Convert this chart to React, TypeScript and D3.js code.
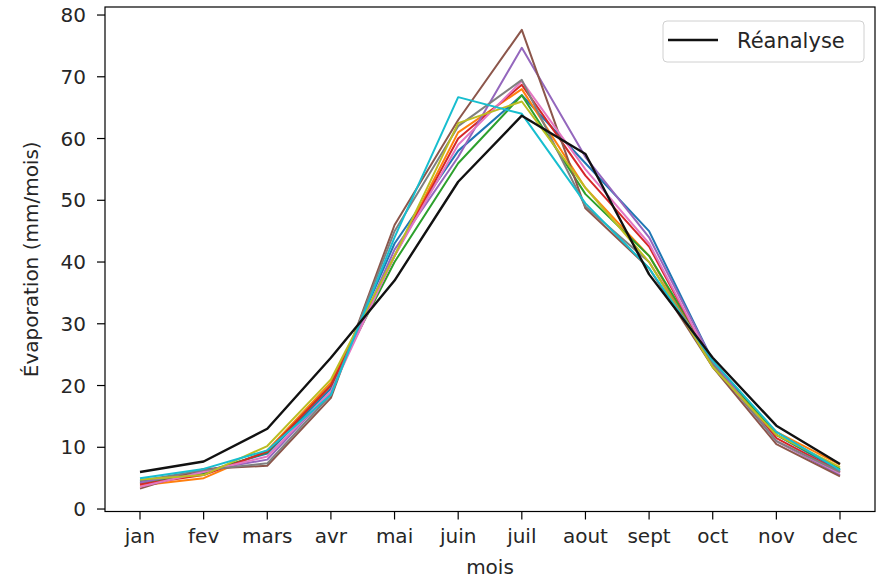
import React from "react";
import * as d3 from "d3";

const months = ["jan", "fev", "mars", "avr", "mai", "juin", "juil", "aout", "sept", "oct", "nov", "dec"];
const yTicks = [0, 10, 20, 30, 40, 50, 60, 70, 80];

const modelColors = ["#1f77b4", "#ff7f0e", "#2ca02c", "#d62728", "#9467bd", "#8c564b", "#e377c2", "#7f7f7f", "#bcbd22", "#17becf"];

const modelBlue = [4.5, 6.0, 9.0, 19.5, 43, 58, 67, 56, 45, 24, 12, 6.2];
const modelOrange = [3.8, 5.0, 9.5, 20.5, 41, 61, 68, 52, 41, 23, 12.5, 7.2];
const modelGreen = [4.2, 5.8, 9.2, 20, 40, 56, 67, 51, 41, 24, 12, 6.5];
const modelRed = [4.0, 5.5, 9.3, 20, 41, 60, 68.7, 54, 42.5, 23.5, 11.5, 6.0];
const modelPurple = [4.3, 6.2, 8.0, 19, 42, 57, 74.7, 57, 44, 24, 11, 5.5];
const modelBrown = [3.3, 6.5, 7.0, 18, 46, 63, 77.6, 48.7, 39, 23, 10.5, 5.3];
const modelPink = [3.6, 6.0, 8.5, 19, 41, 59, 69.3, 55, 43, 23.5, 11, 5.8];
const modelGray = [4.6, 6.3, 7.4, 18.5, 45, 62, 69.5, 49, 40, 23.5, 11, 6.0];
const modelOlive = [4.8, 5.5, 10.2, 21, 41, 62.5, 66, 52, 40, 23, 12, 6.8];
const modelCyan = [5.0, 6.5, 9.5, 18.5, 44, 66.7, 64, 49.5, 39, 24, 12.5, 6.3];

const reanalyse = [6.0, 7.7, 13.0, 24.5, 37.0, 53.0, 63.7, 57.5, 38.0, 24.5, 13.5, 7.3];

const models = [modelBlue, modelOrange, modelGreen, modelRed, modelPurple, modelBrown, modelPink, modelGray, modelOlive, modelCyan];

const W = 882;
const H = 579;
const L = 105, R = 875, T = 7, B = 511.5;
const FONT = "DejaVu Sans";
const FS = 20;

export default function App() {
  const x = d3.scalePoint<string>().domain(months).range([L, R]).padding(0.55);
  const y = d3.scaleLinear().domain([-0.4, 81.3]).range([B, T]);
  const line = d3
    .line<number>()
    .x((_, i) => x(months[i]) as number)
    .y((d) => y(d));

  return (
    <svg width={W} height={H} style={{ position: "absolute", left: 0, top: 0, background: "#fff" }} fontFamily={FONT}>
      <rect x={0} y={0} width={W} height={H} fill="#fff" />
      {models.map((s, i) => (
        <path key={i} d={line(s) || ""} fill="none" stroke={modelColors[i]} strokeWidth={2} strokeLinejoin="round" />
      ))}
      <path d={line(reanalyse) || ""} fill="none" stroke="#111" strokeWidth={2.4} strokeLinejoin="round" />
      <rect x={L} y={T} width={R - L} height={B - T} fill="none" stroke="#000" strokeWidth={1.2} />
      {yTicks.map((t) => (
        <g key={t}>
          <line x1={L - 8} x2={L} y1={y(t)} y2={y(t)} stroke="#000" strokeWidth={1.2} />
          <text x={L - 19} y={y(t)} dy="0.36em" textAnchor="end" fontSize={FS} fill="#262626">
            {t}
          </text>
        </g>
      ))}
      {months.map((m) => (
        <g key={m}>
          <line x1={x(m)} x2={x(m)} y1={B} y2={B + 8} stroke="#000" strokeWidth={1.2} />
          <text x={x(m)} y={B + 31} textAnchor="middle" fontSize={FS} fill="#262626">
            {m}
          </text>
        </g>
      ))}
      <text x={(L + R) / 2} y={574} textAnchor="middle" fontSize={FS} fill="#262626">
        mois
      </text>
      <text transform={`translate(38,${(T + B) / 2}) rotate(-90)`} textAnchor="middle" fontSize={FS} fill="#262626">
        Évaporation (mm/mois)
      </text>
      <g>
        <rect x={663} y={21} width={201} height={41} rx={4} fill="#fff" fillOpacity={0.8} stroke="#d0d0d0" strokeWidth={1} />
        <line x1={668} x2={718} y1={40} y2={40} stroke="#111" strokeWidth={2.6} />
        <text x={737} y={40} dy="0.36em" fontSize={21} fill="#262626">
          Réanalyse
        </text>
      </g>
    </svg>
  );
}
